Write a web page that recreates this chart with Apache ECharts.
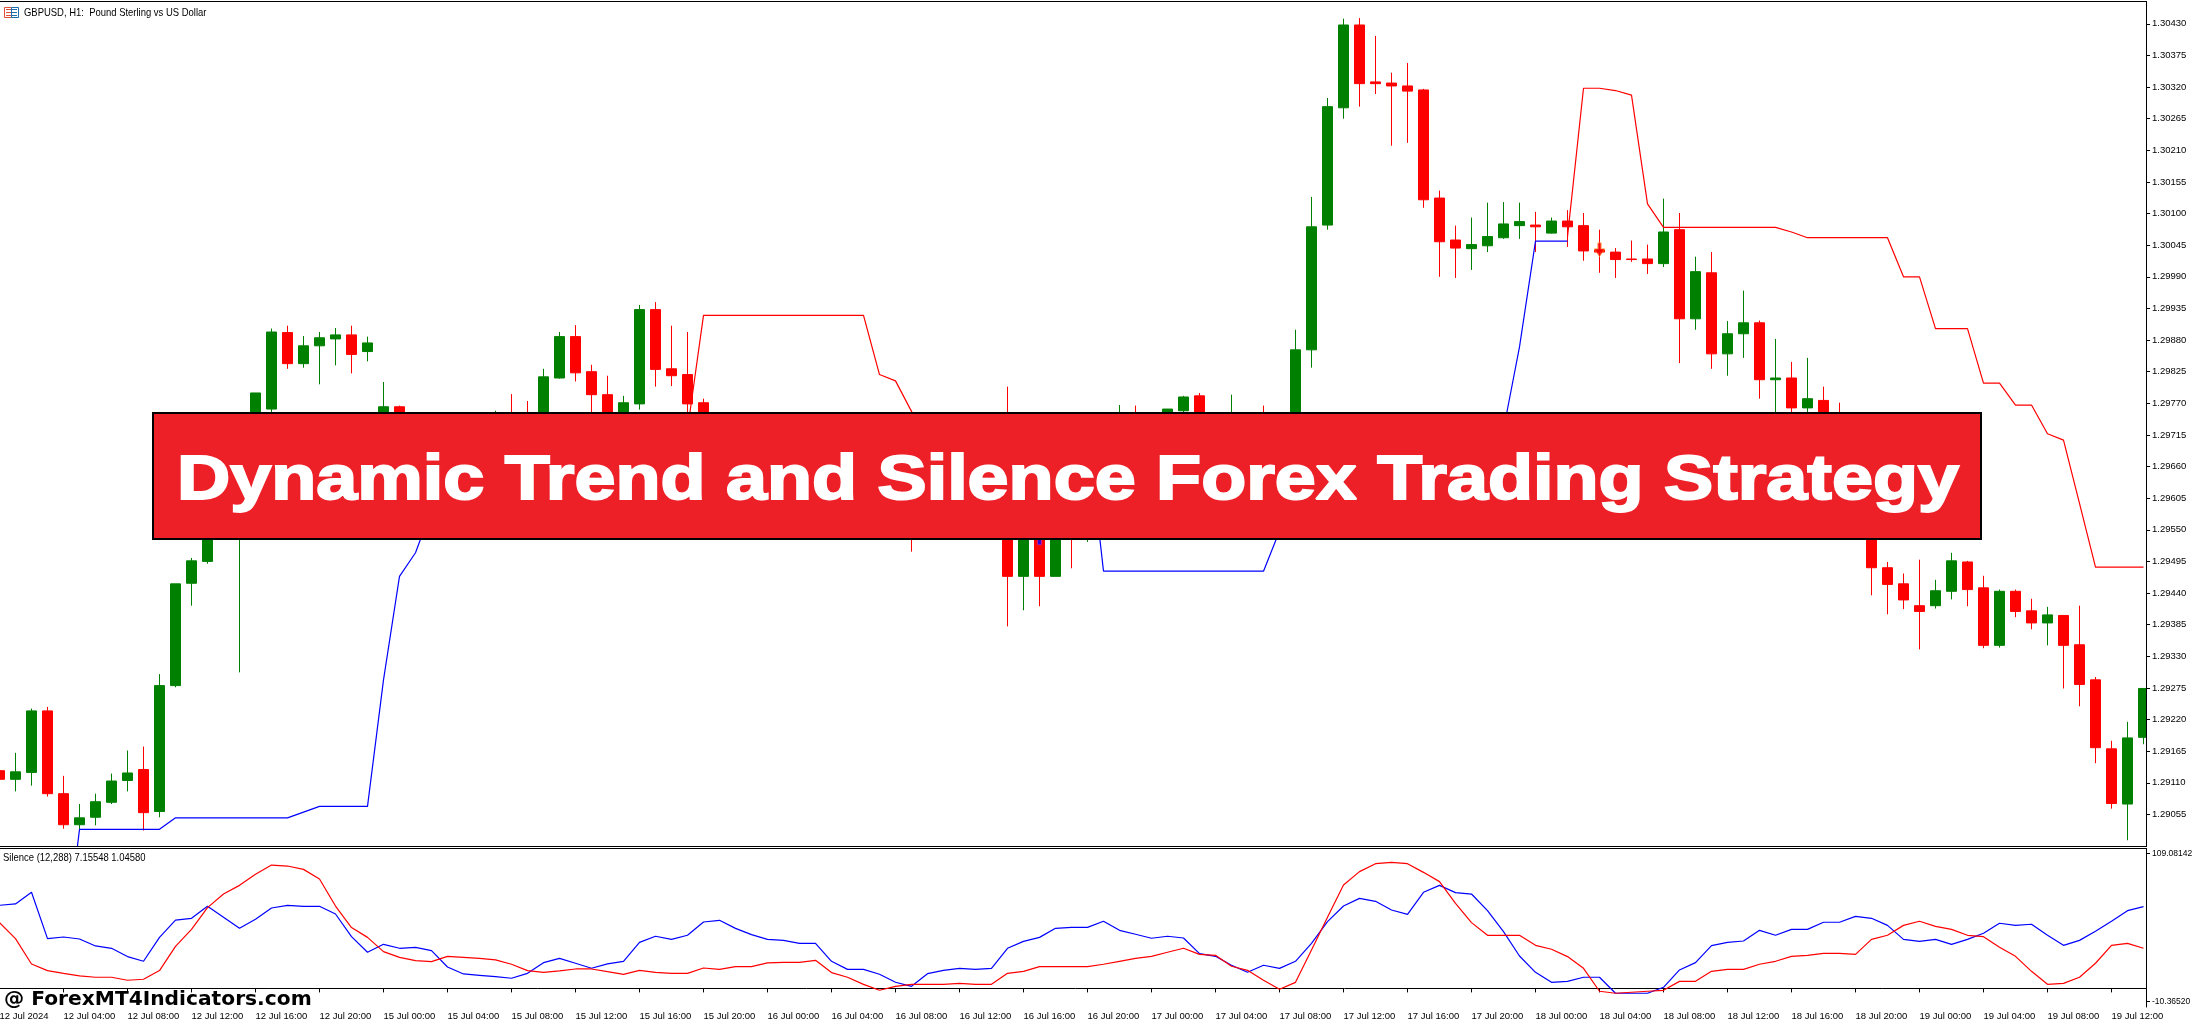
<!DOCTYPE html>
<html>
<head>
<meta charset="utf-8">
<title>Dynamic Trend and Silence Forex Trading Strategy</title>
<script src="https://cdn.jsdelivr.net/npm/echarts@6/dist/echarts.min.js"></script>
<style>html,body{margin:0;padding:0;background:#fff}#c{width:2194px;height:1025px}</style>
</head>
<body>
<div id="c"></div>
<script>
const tickLabels = ['12 Jul 2024','12 Jul 04:00','12 Jul 08:00','12 Jul 12:00','12 Jul 16:00','12 Jul 20:00',
'15 Jul 00:00','15 Jul 04:00','15 Jul 08:00','15 Jul 12:00','15 Jul 16:00','15 Jul 20:00',
'16 Jul 00:00','16 Jul 04:00','16 Jul 08:00','16 Jul 12:00','16 Jul 16:00','16 Jul 20:00',
'17 Jul 00:00','17 Jul 04:00','17 Jul 08:00','17 Jul 12:00','17 Jul 16:00','17 Jul 20:00',
'18 Jul 00:00','18 Jul 04:00','18 Jul 08:00','18 Jul 12:00','18 Jul 16:00','18 Jul 20:00',
'19 Jul 00:00','19 Jul 04:00','19 Jul 08:00','19 Jul 12:00'];
const priceTicks = [1.30430,1.30375,1.30320,1.30265,1.30210,1.30155,1.30100,1.30045,1.29990,1.29935,1.29880,1.29825,1.29770,1.29715,1.29660,1.29605,1.29550,1.29495,1.29440,1.29385,1.29330,1.29275,1.29220,1.29165,1.29110,1.29055];
const silenceTicks = [109.08142,-10.36520];

const opens = [1.29131,1.29116,1.29128,1.29235,1.29091,1.29037,1.29050,1.29076,1.29114,1.29133,
1.29060,1.29279,1.29457,1.29495,1.29602,1.29654,1.29672,1.29760,1.29893,1.29839,
1.29870,1.29882,1.29889,1.29860,1.29733,1.29764,1.29733,1.29706,1.29680,1.29706,
1.29733,1.29706,1.29741,1.29724,1.29654,1.29814,1.29886,1.29825,1.29785,1.29724,
1.29769,1.29933,1.29830,1.29820,1.29771,1.29706,1.29672,1.29698,1.29654,1.29620,
1.29654,1.29611,1.29585,1.29620,1.29593,1.29567,1.29593,1.29567,1.29559,1.29585,
1.29611,1.29654,1.29620,1.29706,1.29469,1.29602,1.29469,1.29637,1.29585,1.29654,
1.29706,1.29741,1.29733,1.29724,1.29757,1.29783,1.29750,1.29698,1.29733,1.29724,
1.29637,1.29637,1.29863,1.30080,1.30284,1.30428,1.30329,1.30327,1.30322,1.30315,
1.30127,1.30054,1.30039,1.30044,1.30058,1.30079,1.30080,1.30066,1.30087,1.30079,
1.30037,1.30033,1.30021,1.30021,1.30013,1.30072,1.29917,1.29997,1.29856,1.29891,
1.29910,1.29811,1.29814,1.29762,1.29775,1.29733,1.29698,1.29602,1.29484,1.29456,
1.29418,1.29418,1.29443,1.29494,1.29449,1.29349,1.29443,1.29409,1.29388,1.29401,
1.29350,1.29289,1.29169,1.29073,1.29189];
const closes = [1.29116,1.29129,1.29235,1.29091,1.29037,1.29049,1.29077,1.29113,1.29127,1.29058,
1.29279,1.29456,1.29496,1.29602,1.29672,1.29706,1.29788,1.29894,1.29839,1.29870,
1.29884,1.29889,1.29855,1.29875,1.29764,1.29724,1.29698,1.29672,1.29724,1.29733,
1.29689,1.29741,1.29689,1.29654,1.29816,1.29886,1.29823,1.29785,1.29724,1.29771,
1.29933,1.29829,1.29818,1.29769,1.29706,1.29672,1.29698,1.29654,1.29620,1.29654,
1.29602,1.29585,1.29620,1.29585,1.29567,1.29593,1.29559,1.29550,1.29585,1.29611,
1.29654,1.29602,1.29689,1.29469,1.29602,1.29469,1.29637,1.29567,1.29654,1.29706,
1.29741,1.29706,1.29698,1.29760,1.29781,1.29741,1.29706,1.29741,1.29689,1.29654,
1.29689,1.29863,1.30077,1.30286,1.30428,1.30326,1.30326,1.30322,1.30313,1.30124,
1.30051,1.30040,1.30046,1.30060,1.30082,1.30086,1.30077,1.30087,1.30077,1.30035,
1.30033,1.30020,1.30020,1.30013,1.30068,1.29917,1.29999,1.29856,1.29891,1.29910,
1.29811,1.29814,1.29762,1.29778,1.29706,1.29689,1.29602,1.29484,1.29455,1.29428,
1.29408,1.29444,1.29496,1.29446,1.29349,1.29443,1.29408,1.29388,1.29402,1.29349,
1.29281,1.29171,1.29074,1.29188,1.29274];
const lows = [1.29115,1.29095,1.29105,1.29086,1.29030,1.29028,1.29036,1.29073,1.29095,1.29027,
1.29050,1.29276,1.29418,1.29491,1.29593,1.29302,1.29637,1.29752,1.29830,1.29832,
1.29803,1.29836,1.29822,1.29843,1.29724,1.29715,1.29689,1.29663,1.29672,1.29698,
1.29680,1.29698,1.29680,1.29637,1.29637,1.29813,1.29808,1.29733,1.29706,1.29706,
1.29759,1.29799,1.29800,1.29733,1.29689,1.29654,1.29654,1.29637,1.29602,1.29602,
1.29593,1.29576,1.29567,1.29567,1.29559,1.29550,1.29550,1.29512,1.29550,1.29576,
1.29602,1.29585,1.29602,1.29382,1.29410,1.29417,1.29469,1.29483,1.29529,1.29637,
1.29689,1.29698,1.29689,1.29706,1.29741,1.29733,1.29689,1.29672,1.29672,1.29637,
1.29620,1.29611,1.29832,1.30072,1.30265,1.30286,1.30308,1.30218,1.30223,1.30110,
1.29990,1.29988,1.30002,1.30033,1.30056,1.30056,1.30033,1.30065,1.30042,1.30018,
1.29997,1.29988,1.30016,1.29995,1.30007,1.29840,1.29898,1.29830,1.29818,1.29849,
1.29778,1.29733,1.29755,1.29755,1.29689,1.29672,1.29585,1.29436,1.29403,1.29412,
1.29342,1.29413,1.29429,1.29417,1.29344,1.29345,1.29398,1.29377,1.29349,1.29274,
1.29243,1.29144,1.29065,1.29010,1.29177];
const highs = [1.29131,1.29162,1.29239,1.29242,1.29122,1.29073,1.29091,1.29126,1.29166,1.29173,
1.29299,1.29456,1.29501,1.29620,1.29680,1.29724,1.29788,1.29900,1.29905,1.29887,
1.29894,1.29901,1.29905,1.29886,1.29807,1.29766,1.29750,1.29741,1.29745,1.29750,
1.29748,1.29757,1.29786,1.29774,1.29830,1.29894,1.29906,1.29837,1.29818,1.29783,
1.29941,1.29946,1.29905,1.29894,1.29778,1.29724,1.29715,1.29706,1.29672,1.29663,
1.29663,1.29620,1.29637,1.29628,1.29611,1.29602,1.29611,1.29585,1.29602,1.29620,
1.29663,1.29672,1.29706,1.29799,1.29637,1.29620,1.29654,1.29654,1.29672,1.29724,
1.29767,1.29766,1.29750,1.29760,1.29783,1.29788,1.29750,1.29785,1.29745,1.29766,
1.29724,1.29898,1.30129,1.30301,1.30439,1.30440,1.30409,1.30345,1.30362,1.30317,
1.30140,1.30079,1.30093,1.30119,1.30120,1.30119,1.30103,1.30093,1.30106,1.30101,
1.30072,1.30040,1.30053,1.30046,1.30126,1.30101,1.30025,1.30033,1.29913,1.29966,
1.29914,1.29882,1.29842,1.29849,1.29799,1.29771,1.29724,1.29620,1.29494,1.29474,
1.29498,1.29463,1.29510,1.29496,1.29470,1.29446,1.29446,1.29430,1.29416,1.29401,
1.29418,1.29294,1.29183,1.29216,1.29274];

const _ = null;
const trendBlue = [_,_,_,_,1.28802,1.29029,1.29029,1.29029,1.29029,1.29029,
1.29029,1.29049,1.29049,1.29049,1.29049,1.29049,1.29049,1.29049,1.29049,1.29059,
1.29069,1.29069,1.29069,1.29069,1.29289,1.29469,1.29510,1.29585,1.29637,1.29650,
1.29655,1.29660,1.29665,1.29670,1.29675,1.29680,1.29690,1.29695,1.29700,1.29705,
1.29710,1.29712,1.29716,1.29720,_,_,_,_,_,_,
_,_,_,_,_,_,_,_,_,_,
_,_,_,_,_,_,_,_,1.29724,1.29478,
1.29478,1.29478,1.29478,1.29478,1.29478,1.29478,1.29478,1.29478,1.29478,1.29478,
1.29548,1.29602,1.29637,1.29640,1.29645,1.29650,1.29655,1.29660,1.29665,1.29670,
1.29680,1.29685,1.29690,1.29700,1.29724,1.29868,1.30052,1.30052,1.30052,_,
_,_,_,_,_,_,_,_,_,_,
_,_,_,_,_,_,_,_,_,_,
_,_,_,_,_,_,_,_,_,_,
_,_,_,_,_];
const trendRed = [_,_,_,_,_,_,_,_,_,_,
_,_,_,_,_,_,_,_,_,_,
_,_,_,_,_,_,_,_,_,_,
_,_,_,_,_,_,_,_,_,_,
_,_,_,1.29724,1.29923,1.29923,1.29923,1.29923,1.29923,1.29923,
1.29923,1.29923,1.29923,1.29923,1.29923,1.29820,1.29809,1.29756,1.29706,1.29654,
1.29602,1.29590,1.29580,1.29570,1.29570,1.29560,1.29560,1.29550,1.29550,_,
_,_,_,_,_,_,_,_,_,_,
_,_,_,_,_,_,_,_,_,_,
_,_,_,_,_,_,_,_,1.30060,1.30318,
1.30318,1.30314,1.30306,1.30117,1.30076,1.30076,1.30076,1.30076,1.30076,1.30076,
1.30076,1.30076,1.30068,1.30058,1.30058,1.30058,1.30058,1.30058,1.30058,1.29990,
1.29990,1.29900,1.29900,1.29900,1.29805,1.29805,1.29767,1.29767,1.29717,1.29706,
1.29596,1.29485,1.29485,1.29485,1.29485];

const silenceBlue = [67.1,68.2,77.6,40.2,41.5,39.9,34.3,32.4,25.7,21.9,
41.2,55.2,56.6,66.3,57.4,48.5,55.8,64.9,67.1,66.3,
66.3,60.1,41.8,29.2,35.6,32.4,33.2,30.5,17.3,11.7,
10.6,9.5,8.2,12.2,20.8,24.3,20.3,16.3,19.8,21.9,
37.2,42.1,39.6,42.9,53.6,55.0,48.5,43.4,39.6,38.8,
36.4,36.4,21.9,15.4,15.4,11.4,5.0,1.7,11.9,14.6,
16.2,15.4,16.2,32.4,38.0,41.2,48.5,49.3,49.3,54.2,
46.9,43.7,40.5,42.1,40.7,28.1,25.9,18.7,13.0,18.7,
16.2,21.9,36.4,53.9,66.5,72.7,70.3,63.3,59.8,77.6,
83.2,77.3,76.2,62.8,45.8,26.2,13.0,4.9,5.7,9.0,
9.0,-3.9,-3.9,-3.9,0.9,14.9,20.8,34.5,37.2,38.3,
46.9,42.9,47.7,47.7,53.4,53.4,58.2,56.6,50.9,39.6,
38.0,39.6,35.6,39.6,44.5,52.6,50.9,51.8,42.9,34.8,
38.8,46.1,54.2,62.8,66.0];
const silenceRed = [53.1,40.2,19.7,14.4,12.2,10.1,9.0,9.0,6.6,7.4,
14.4,34.0,47.7,65.2,76.2,83.2,92.1,99.6,98.8,96.1,
88.3,66.5,49.1,41.2,29.7,25.1,22.4,21.6,25.9,25.1,
24.3,23.0,19.5,14.4,13.0,14.1,15.7,15.7,13.5,11.4,
14.6,13.0,12.2,12.2,16.5,15.4,17.6,17.6,20.6,21.1,
21.1,22.7,12.8,9.0,3.3,-1.5,1.7,3.3,3.3,3.3,
4.1,3.3,3.3,12.2,13.8,17.6,17.6,17.6,17.6,19.5,
21.9,24.3,25.9,29.2,32.4,27.5,26.7,17.9,14.6,6.6,
-0.7,4.9,31.0,57.4,83.5,94.3,100.7,101.8,100.7,93.7,
86.2,68.7,53.1,42.9,42.9,42.9,34.8,31.6,25.7,16.2,
-2.3,-3.9,-3.1,-2.3,-1.5,5.7,5.7,13.8,15.4,15.4,
19.5,21.9,25.9,26.7,28.3,28.3,27.5,39.6,42.9,50.9,
54.2,50.1,47.7,42.9,41.8,33.2,25.9,13.8,3.3,4.1,
9.0,20.3,34.8,36.4,32.4];

const sellSignals = [[100, 1.30037]];
const buySignals = [[65, 1.29536]];

const categories = opens.map((v, i) => tickLabels[Math.floor(i / 4)] + '#' + (i % 4));
const candles = opens.map((o, i) => [o, closes[i], lows[i], highs[i]]);

const UI_FONT = '"Liberation Sans",sans-serif';
const GREEN = '#008000', RED = '#ff0000', BLUE = '#0000ff';

const xBase = {type: 'category', data: categories, boundaryGap: true};
const chart = echarts.init(document.getElementById('c'), null, {renderer: 'canvas'});
chart.setOption({
  animation: false,
  backgroundColor: '#ffffff',
  grid: [
    {left: -8.5, top: 2, width: 2160, height: 844, show: false, outerBoundsMode: 'none', containLabel: false},
    {left: -8.5, top: 849, width: 2160, height: 158, show: false, outerBoundsMode: 'none', containLabel: false}
  ],
  xAxis: [
    Object.assign({}, xBase, {gridIndex: 0, axisLine: {show: false}, axisTick: {show: false}, axisLabel: {show: false}, splitLine: {show: false}}),
    Object.assign({}, xBase, {gridIndex: 1,
      axisLine: {show: true, lineStyle: {color: '#000', width: 1}},
      axisTick: {show: true, interval: 3, alignWithLabel: true, length: 4, lineStyle: {color: '#000'}},
      axisLabel: {show: true, interval: 3, align: 'left', margin: 4, color: '#000', fontFamily: UI_FONT, fontSize: 9.5,
        formatter: v => v.split('#')[0]},
      splitLine: {show: false}})
  ],
  yAxis: [
    {type: 'value', gridIndex: 0, position: 'right', offset: -5.5, min: 1.29000, max: 1.30468, z: 10,
      axisLine: {show: true, onZero: false, lineStyle: {color: '#000', width: 1}},
      axisTick: {show: true, length: 4, customValues: priceTicks, lineStyle: {color: '#000'}},
      axisLabel: {show: true, margin: 6, customValues: priceTicks, color: '#000', fontFamily: UI_FONT, fontSize: 9.5, formatter: v => v.toFixed(5)},
      splitLine: {show: false}},
    {type: 'value', gridIndex: 1, position: 'right', offset: -5.5, min: -15, max: 112.55, z: 10,
      axisLine: {show: true, onZero: false, lineStyle: {color: '#000', width: 1}},
      axisTick: {show: true, length: 4, customValues: silenceTicks, lineStyle: {color: '#000'}},
      axisLabel: {show: true, margin: 6, customValues: silenceTicks, color: '#000', fontFamily: UI_FONT, fontSize: 8.5, formatter: v => v.toFixed(5)},
      splitLine: {show: false}}
  ],
  series: [
    {name: 'GBPUSD', type: 'candlestick', xAxisIndex: 0, yAxisIndex: 0, data: candles, barWidth: 10, z: 2, silent: true,
      itemStyle: {color: GREEN, color0: RED, borderColor: GREEN, borderColor0: RED, borderWidth: 1}},
    {name: 'Dynamic Trend Up', type: 'line', xAxisIndex: 0, yAxisIndex: 0, data: trendBlue, showSymbol: false, symbol: 'none', z: 3, silent: true,
      lineStyle: {color: BLUE, width: 1.2}, connectNulls: false},
    {name: 'Dynamic Trend Down', type: 'line', xAxisIndex: 0, yAxisIndex: 0, data: trendRed, showSymbol: false, symbol: 'none', z: 3, silent: true,
      lineStyle: {color: RED, width: 1.2}, connectNulls: false},
    {name: 'Sell', type: 'scatter', xAxisIndex: 0, yAxisIndex: 0, data: sellSignals, z: 4, silent: true,
      symbol: 'path://M4,0 L8,0 L8,6 L12,6 L6,14 L0,6 L4,6 Z', symbolSize: [11, 14],
      itemStyle: {color: RED, borderColor: '#ffd040', borderWidth: 0.6}},
    {name: 'Buy', type: 'scatter', xAxisIndex: 0, yAxisIndex: 0, data: buySignals, z: 4, silent: true,
      symbol: 'path://M6,0 L12,8 L8,8 L8,14 L4,14 L4,8 L0,8 Z', symbolSize: [11, 14],
      itemStyle: {color: BLUE, borderColor: '#e040e0', borderWidth: 0.6}},
    {name: 'Silence Volatility', type: 'line', xAxisIndex: 1, yAxisIndex: 1, data: silenceBlue, showSymbol: false, symbol: 'none', z: 3, silent: true,
      lineStyle: {color: BLUE, width: 1.2}},
    {name: 'Silence Volume', type: 'line', xAxisIndex: 1, yAxisIndex: 1, data: silenceRed, showSymbol: false, symbol: 'none', z: 3, silent: true,
      lineStyle: {color: RED, width: 1.2}}
  ],
  graphic: {elements: [
    {type: 'rect', silent: true, z: 5, shape: {x: 2147, y: 0, width: 5, height: 1007.6}, style: {fill: '#fff'}},
    {type: 'rect', silent: true, z: 6, shape: {x: 0, y: 1, width: 2147, height: 1}, style: {fill: '#000'}},
    {type: 'rect', silent: true, z: 6, shape: {x: 0, y: 846, width: 2147, height: 1}, style: {fill: '#000'}},
    {type: 'rect', silent: true, z: 6, shape: {x: 0, y: 848, width: 2147, height: 1}, style: {fill: '#000'}},
    {type: 'text', silent: true, z: 6, x: 24, y: 13, scaleX: 0.86, style: {text: 'GBPUSD, H1:  Pound Sterling vs US Dollar', fontFamily: UI_FONT, fontSize: 11, fill: '#000', textVerticalAlign: 'middle'}},
    {type: 'text', silent: true, z: 6, x: 3, y: 858, scaleX: 0.86, style: {text: 'Silence (12,288) 7.15548 1.04580', fontFamily: UI_FONT, fontSize: 11, fill: '#000', textVerticalAlign: 'middle'}},
    // symbol icon
    {type: 'rect', silent: true, z: 6, shape: {x: 4.5, y: 7.5, width: 7, height: 10}, style: {fill: '#fff', stroke: '#e0503c', lineWidth: 1}},
    {type: 'rect', silent: true, z: 6, shape: {x: 11.5, y: 7.5, width: 7, height: 10}, style: {fill: '#fff', stroke: '#1c6cb0', lineWidth: 1}},
    {type: 'rect', silent: true, z: 6, shape: {x: 6, y: 9, width: 5, height: 1}, style: {fill: '#e0503c'}},
    {type: 'rect', silent: true, z: 6, shape: {x: 6, y: 12, width: 5, height: 1}, style: {fill: '#e0503c'}},
    {type: 'rect', silent: true, z: 6, shape: {x: 6, y: 15, width: 5, height: 1}, style: {fill: '#e0503c'}},
    {type: 'rect', silent: true, z: 6, shape: {x: 12, y: 9, width: 5, height: 1}, style: {fill: '#1c6cb0'}},
    {type: 'rect', silent: true, z: 6, shape: {x: 12, y: 12, width: 5, height: 1}, style: {fill: '#1c6cb0'}},
    {type: 'rect', silent: true, z: 6, shape: {x: 12, y: 15, width: 5, height: 1}, style: {fill: '#1c6cb0'}},
    // banner
    {type: 'rect', silent: true, z: 20, shape: {x: 153, y: 413, width: 1828, height: 126}, style: {fill: '#ed1f27', stroke: '#000', lineWidth: 2}},
    {type: 'text', silent: true, z: 21, x: 1068, y: 482, scaleX: 1.17, style: {text: 'Dynamic Trend and Silence Forex Trading Strategy', fontFamily: '"Liberation Sans",sans-serif', fontWeight: 'bold', fontSize: 63, fill: '#fff', stroke: '#fff', lineWidth: 2, textAlign: 'center', textVerticalAlign: 'middle'}},
    // watermark
    {type: 'text', silent: true, z: 21, x: 4, y: 1000, scaleX: 1.01, style: {text: '@ ForexMT4Indicators.com', fontFamily: '"DejaVu Sans",sans-serif', fontWeight: 'bold', fontSize: 20, fill: '#000', textVerticalAlign: 'middle'}}
  ]}
});
</script>
</body>
</html>
